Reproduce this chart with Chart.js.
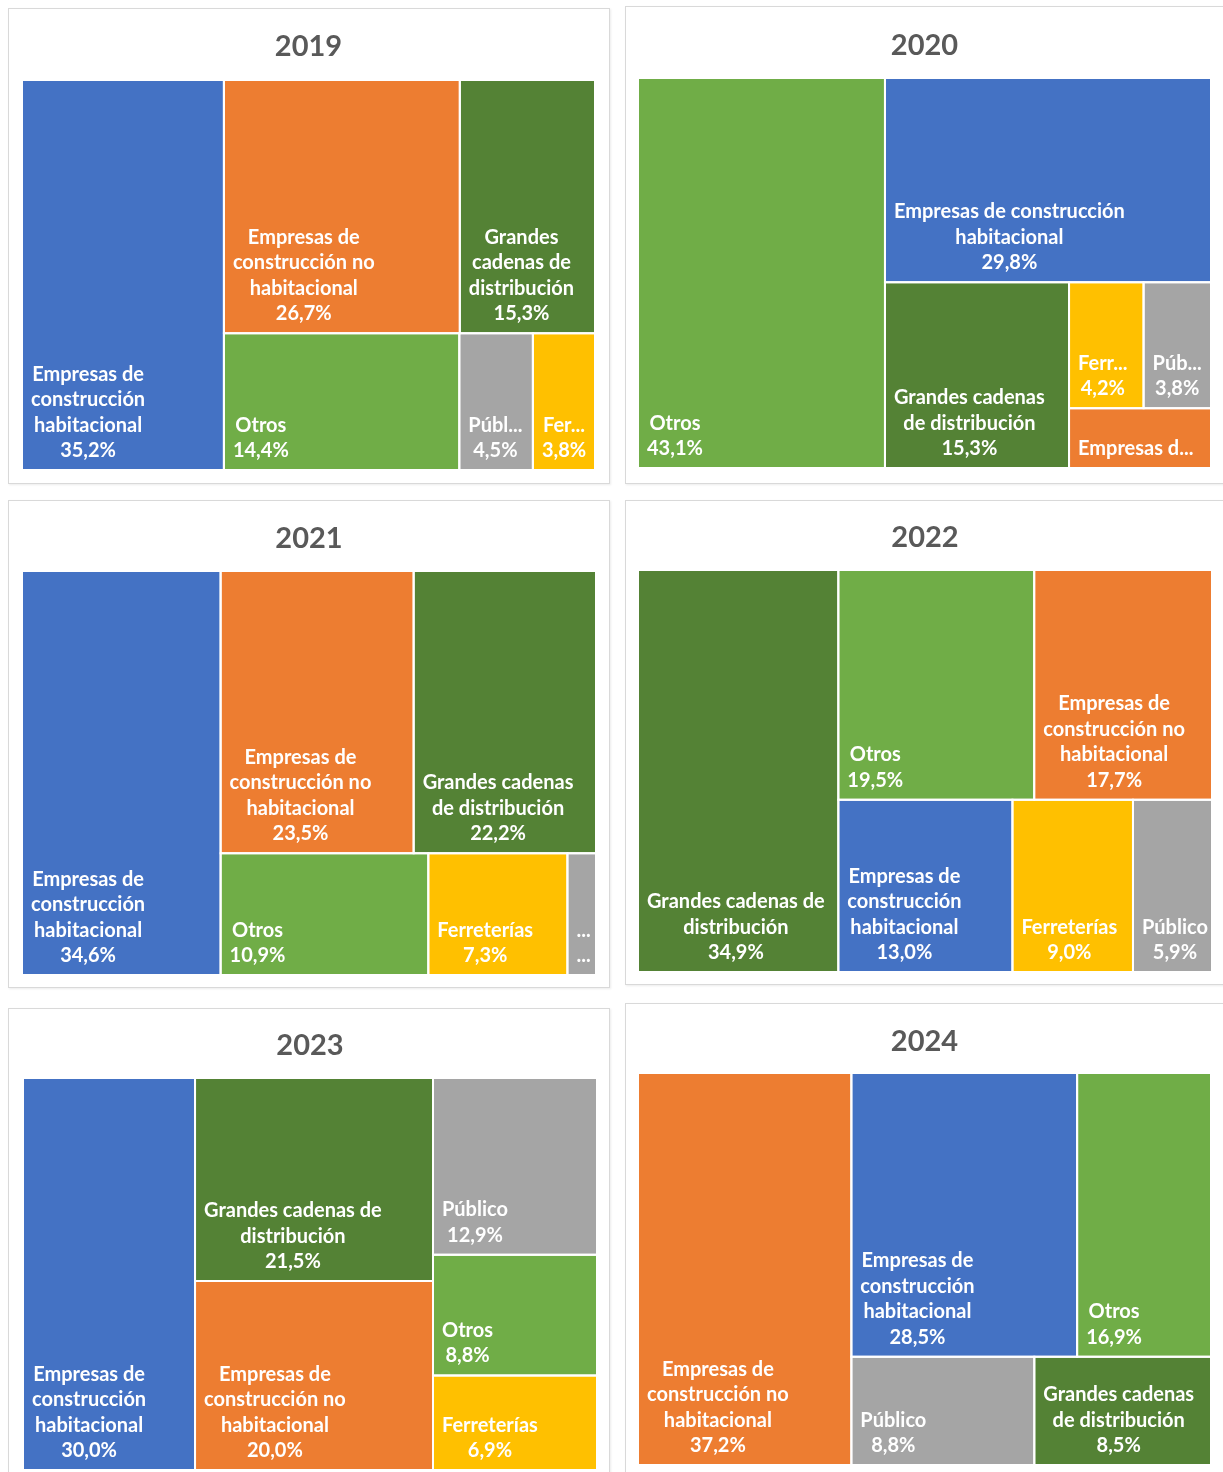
<!DOCTYPE html>
<html lang="es">
<head>
<meta charset="utf-8">
<title>Treemaps 2019-2024</title>
<script src="https://cdn.jsdelivr.net/npm/chart.js@4.4.0/dist/chart.umd.min.js"></script>
<style>
  html, body { margin: 0; padding: 0; background: #fff; }
  body { width: 1223px; height: 1472px; overflow: hidden; position: relative; }
  .panel { position: absolute; background: #fff; border: 1px solid #d9d9d9; box-sizing: border-box;
           box-shadow: 1px 1px 2px rgba(0,0,0,.08); }
  .panel canvas { position: absolute; left: -1px; top: -1px; }
</style>
</head>
<body>
<div class="panel" id="p0"><canvas id="c0"></canvas></div>
<div class="panel" id="p1"><canvas id="c1"></canvas></div>
<div class="panel" id="p2"><canvas id="c2"></canvas></div>
<div class="panel" id="p3"><canvas id="c3"></canvas></div>
<div class="panel" id="p4"><canvas id="c4"></canvas></div>
<div class="panel" id="p5"><canvas id="c5"></canvas></div>
<script>
// ── data: one pair of lists per year, in the order the tiles are laid out ──
var years = ['2019', '2020', '2021', '2022', '2023', '2024'];

var names2019  = ['Empresas de construcción habitacional', 'Empresas de construcción no habitacional', 'Grandes cadenas de distribución', 'Otros', 'Público', 'Ferreterías'];
var values2019 = [35.2, 26.7, 15.3, 14.4, 4.5, 3.8];

var names2020  = ['Otros', 'Empresas de construcción habitacional', 'Grandes cadenas de distribución', 'Ferreterías', 'Público', 'Empresas de construcción no habitacional'];
var values2020 = [43.1, 29.8, 15.3, 4.2, 3.8, 3.8];

var names2021  = ['Empresas de construcción habitacional', 'Empresas de construcción no habitacional', 'Grandes cadenas de distribución', 'Otros', 'Ferreterías', 'Público'];
var values2021 = [34.6, 23.5, 22.2, 10.9, 7.3, 1.5];

var names2022  = ['Grandes cadenas de distribución', 'Otros', 'Empresas de construcción no habitacional', 'Empresas de construcción habitacional', 'Ferreterías', 'Público'];
var values2022 = [34.9, 19.5, 17.7, 13.0, 9.0, 5.9];

var names2023  = ['Empresas de construcción habitacional', 'Grandes cadenas de distribución', 'Empresas de construcción no habitacional', 'Público', 'Otros', 'Ferreterías'];
var values2023 = [30.0, 21.5, 20.0, 12.9, 8.8, 6.9];

var names2024  = ['Empresas de construcción no habitacional', 'Empresas de construcción habitacional', 'Otros', 'Público', 'Grandes cadenas de distribución'];
var values2024 = [37.2, 28.5, 16.9, 8.8, 8.5];

var allNames  = [names2019, names2020, names2021, names2022, names2023, names2024];
var allValues = [values2019, values2020, values2021, values2022, values2023, values2024];

// ── styles ──
var COLORS = {
  'Empresas de construcción habitacional':    '#4472C4',
  'Empresas de construcción no habitacional': '#ED7D31',
  'Grandes cadenas de distribución':          '#548235',
  'Otros':                                    '#70AD47',
  'Público':                                  '#A5A5A5',
  'Ferreterías':                              '#FFC000'
};
var LABEL_FONT = 'bold 20px Lato, "Open Sans", sans-serif';
var LINE_H = 25.5, PAD_X = 9, BASE_B = 13;
var SLACK = 6;             // a whole word may run a little into the right padding
var TITLE_SIZE = 29;
var TARGET_RATIO = 0.82;   // Excel seems to favour tiles a bit taller than wide

// panel boxes on the page (outer), title centre and plot insets
var PANELS = [
  { left: 8,   top: 8,    w: 602, h: 476, titleY: 39, plotTop: 72, padL: 14, padR: 15, padB: 14 },
  { left: 625, top: 6,    w: 600, h: 478, titleY: 40, plotTop: 72, padL: 13, padR: 14, padB: 16 },
  { left: 8,   top: 500,  w: 602, h: 488, titleY: 39, plotTop: 71, padL: 14, padR: 14, padB: 13 },
  { left: 625, top: 500,  w: 600, h: 485, titleY: 38, plotTop: 70, padL: 13, padR: 13, padB: 13 },
  { left: 8,   top: 1008, w: 602, h: 472, titleY: 38, plotTop: 70, padL: 15, padR: 13, padB: 10 },
  { left: 625, top: 1003, w: 600, h: 477, titleY: 39, plotTop: 70, padL: 13, padR: 14, padB: 15 }
];

// ── squarified layout (strips on the shorter side) ──
function tileCost(w, h) {
  var r = w / h;
  return Math.max(r / TARGET_RATIO, TARGET_RATIO / r);
}

function stripCost(areas, side, vertical) {
  var sum = areas.reduce(function(a, b) { return a + b; }, 0);
  var thick = sum / side, worst = 0;
  areas.forEach(function(a) {
    var len = a / thick;
    var c = vertical ? tileCost(thick, len) : tileCost(len, thick);
    if (c > worst) worst = c;
  });
  return worst;
}

function squarify(values, W, H) {
  var total = values.reduce(function(a, b) { return a + b; }, 0);
  var areas = values.map(function(v) { return v * W * H / total; });
  var rx = 0, ry = 0, rw = W, rh = H;
  var rects = [], i = 0;
  while (i < areas.length) {
    var vertical = rw >= rh;
    var side = vertical ? rh : rw;
    var row = [areas[i]], best = stripCost(row, side, vertical), j = i + 1;
    while (j < areas.length) {
      var cand = row.concat([areas[j]]);
      var c = stripCost(cand, side, vertical);
      if (c > best) break;
      row = cand; best = c; j++;
    }
    var sum = row.reduce(function(a, b) { return a + b; }, 0);
    var thick = sum / side, pos = vertical ? ry : rx;
    row.forEach(function(a) {
      var len = a / thick;
      if (vertical) rects.push({ x0: rx, y0: pos, x1: rx + thick, y1: pos + len });
      else          rects.push({ x0: pos, y0: ry, x1: pos + len, y1: ry + thick });
      pos += len;
    });
    if (vertical) { rx += thick; rw -= thick; } else { ry += thick; rh -= thick; }
    i = j;
  }
  return rects;
}

// ── labels ──
function fmtPct(v) { return v.toFixed(1).replace('.', ',') + '%'; }

function fitText(ctx, text, maxW) {
  if (ctx.measureText(text).width <= maxW + SLACK) return text;
  for (var n = text.length - 1; n > 0; n--) {
    var t = text.slice(0, n).replace(/\s+$/, '') + '...';
    if (ctx.measureText(t).width <= maxW) return t;
  }
  return '...';
}

function wrapWords(ctx, text, maxW) {
  var words = text.split(' '), lines = [], cur = '';
  for (var k = 0; k < words.length; k++) {
    if (ctx.measureText(words[k]).width > maxW + SLACK) return null;
    var test = cur ? cur + ' ' + words[k] : words[k];
    if (ctx.measureText(test).width <= maxW) cur = test;
    else { lines.push(cur); cur = words[k]; }
  }
  lines.push(cur);
  return lines;
}

var tileLabels = {
  id: 'tileLabels',
  afterDatasetsDraw: function(chart) {
    var ctx = chart.ctx;
    ctx.save();
    ctx.font = LABEL_FONT;
    ctx.fillStyle = '#ffffff';
    ctx.textAlign = 'center';
    ctx.textBaseline = 'alphabetic';
    chart.data.datasets.forEach(function(ds, i) {
      var pts = chart.getDatasetMeta(i).data;
      var x0 = Math.min(pts[0].x, pts[2].x), x1 = Math.max(pts[0].x, pts[2].x);
      var y0 = Math.min(pts[0].y, pts[2].y), y1 = Math.max(pts[0].y, pts[2].y);
      var availW = x1 - x0 - 2 * PAD_X;
      var maxLines = Math.max(1, Math.floor((y1 - y0 - 12) / LINE_H));
      var value = fmtPct(ds.value);
      var lines = wrapWords(ctx, ds.label, availW);
      if (lines && lines.length + 1 <= maxLines && ctx.measureText(value).width <= availW + SLACK) {
        lines.push(value);
      } else if (maxLines >= 2) {
        lines = [fitText(ctx, ds.label, availW), fitText(ctx, value, availW)];
      } else {
        lines = [fitText(ctx, ds.label, availW)];
      }
      var blockW = 0;
      lines.forEach(function(l) { blockW = Math.max(blockW, ctx.measureText(l).width); });
      var cx = x0 + PAD_X + blockW / 2;
      lines.forEach(function(l, k) {
        ctx.fillText(l, cx, y1 - BASE_B - (lines.length - 1 - k) * LINE_H);
      });
    });
    ctx.restore();
  }
};

// ── charts ──
function buildPanel(idx) {
  var p = PANELS[idx];
  var box = document.getElementById('p' + idx);
  box.style.left = p.left + 'px'; box.style.top = p.top + 'px';
  box.style.width = p.w + 'px';   box.style.height = p.h + 'px';
  var canvas = document.getElementById('c' + idx);
  canvas.width = p.w; canvas.height = p.h;

  var W = p.w - p.padL - p.padR;
  var H = p.h - p.plotTop - p.padB;
  var lineH = TITLE_SIZE * 1.2;
  var titleTop = p.titleY - lineH / 2;

  var names = allNames[idx], values = allValues[idx];
  var rects = squarify(values, W, H);
  var datasets = rects.map(function(r, k) {
    return {
      label: names[k],
      value: values[k],
      data: [{ x: r.x0, y: r.y0 }, { x: r.x1, y: r.y0 }, { x: r.x1, y: r.y1 }, { x: r.x0, y: r.y1 }, { x: r.x0, y: r.y0 }],
      fill: 'shape',
      backgroundColor: COLORS[names[k]],
      borderColor: '#ffffff',
      borderWidth: 2,
      borderJoinStyle: 'miter',
      borderCapStyle: 'square',
      pointRadius: 0,
      pointHoverRadius: 0,
      tension: 0,
      clip: false
    };
  });

  new Chart(canvas, {
    type: 'line',
    data: { datasets: datasets },
    options: {
      responsive: false,
      animation: false,
      events: [],
      layout: { padding: { left: p.padL, right: p.padR, bottom: p.padB, top: 0 } },
      scales: {
        x: { type: 'linear', min: 0, max: W, display: false },
        y: { type: 'linear', min: 0, max: H, reverse: true, display: false }
      },
      plugins: {
        legend: { display: false },
        tooltip: { enabled: false },
        filler: { drawTime: 'beforeDatasetsDraw' },
        title: {
          display: true,
          text: years[idx],
          color: '#595959',
          font: { family: 'Lato, "Open Sans", sans-serif', size: TITLE_SIZE, weight: 'bold', lineHeight: 1.2 },
          padding: { top: titleTop, bottom: p.plotTop - titleTop - lineH }
        }
      }
    },
    plugins: [tileLabels]
  });
}

for (var n = 0; n < years.length; n++) buildPanel(n);
</script>
</body>
</html>
